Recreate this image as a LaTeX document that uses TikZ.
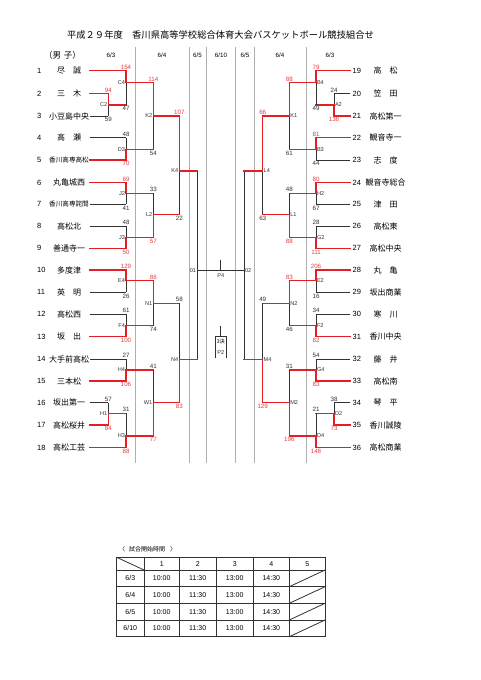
\documentclass[tikz,border=0pt]{standalone}
\usepackage{fontspec}
\setmainfont{Liberation Sans}
\newfontfamily\jp{Noto Sans CJK JP}
\definecolor{rl}{RGB}{228,30,36}
\definecolor{rt}{RGB}{232,60,60}
\definecolor{dk}{RGB}{50,50,50}
\definecolor{gl}{RGB}{175,175,175}
\newcommand\fs[1]{\fontsize{#1}{#1}\selectfont}
% match: winner top / winner bottom : xv, ytop, ybot, yout, xout
\newcommand\mt[5]{\draw[lose] (#1,#4) -- (#1,#3); \draw[win] (#1,#2) -- (#1,#4) -- (#5,#4);}
\newcommand\mb[5]{\draw[lose] (#1,#2) -- (#1,#4); \draw[win] (#1,#3) -- (#1,#4) -- (#5,#4);}
\newcommand\sA[4]{\node[#4,anchor=south] at (#1,#2-0.9) {#3};}
\newcommand\sB[4]{\node[#4,anchor=north] at (#1,#2+0.9) {#3};}
\newcommand\mL[3]{\node[ml,anchor=east] at (#1-0.4,#2) {#3};}
\newcommand\mR[3]{\node[ml,anchor=west] at (#1+0.4,#2) {#3};}
\begin{document}
\begin{tikzpicture}[x=1pt,y=-1pt,
  win/.style={draw=rl,line width=1.5pt,line cap=rect},
  lose/.style={draw=dk,line width=0.8pt},
  sc/.style={font=\fs{6.2},inner sep=0.5pt},
  scr/.style={sc,text=rt},
  sck/.style={sc,text=dk},
  ml/.style={font=\fs{5.6},inner sep=0.4pt,text=dk},
  nm/.style={font=\jp\fs{8},inner sep=0},
  nms/.style={font=\jp\fs{6.6},inner sep=0},
  num/.style={font=\fs{7.5},anchor=west,inner sep=0},
  col/.style={draw=gl,line width=0.7pt},
  tb/.style={draw=dk,line width=1pt},
  tt/.style={font=\fs{7},inner sep=0}]
\path[use as bounding box,fill=white] (0,0) rectangle (481,680);

% title
\node[font=\jp\fs{9.3},inner sep=0] (title) at (220.5,35) {平成２９年度　香川県高等学校総合体育大会バスケットボール競技組合せ};
\node[font=\jp\fs{8.5},inner sep=0] (sex) at (62.5,55) {（男\hspace{3pt}子）};
% date headers
\foreach \x/\d [count=\i] in {111/6\slash 3,162/6\slash 4,197.5/6\slash 5,221/6\slash 10,245/6\slash 5,280/6\slash 4,330/6\slash 3}
  \node[font=\fs{6.2},inner sep=0] (d\i) at (\x,55) {\d};
% column lines
\foreach \x in {135,189,206,235.7,254,306.7}
  \draw[col] (\x,47) -- (\x,463);

% final
\draw[lose] (197,171) -- (197,359.3);
\draw[lose] (244,171) -- (244,359.3);
\draw[lose] (197,270.7) -- (244,270.7);
\draw[lose] (220.7,260) -- (220.7,270.7);
\node[ml] (p4) at (220.7,276) {P4};
\draw[lose] (220.7,326) -- (220.7,336.7);
\draw[lose] (215.7,358.3) -- (215.7,336.7) -- (226,336.7) -- (226,358.3);
\node[font=\jp\fs{5.2},inner sep=0] (p2a) at (220.8,341.5) {3決};
\node[ml] (p2b) at (220.8,352.5) {P2};
\mL{197}{270.7}{01}
\mR{244}{270.7}{02}

% ---------- left side ----------
\draw[lose] (90,116) -- (108.3,116);
\draw[lose] (90,137.7) -- (126,137.7);
\draw[lose] (90,204.3) -- (126,204.3);
\draw[lose] (90,226) -- (126,226);
\draw[lose] (90,292.3) -- (126,292.3);
\draw[lose] (90,314.3) -- (126,314.3);
\draw[lose] (90,359.3) -- (126,359.3);
\draw[lose] (90,402.7) -- (108.3,402.7);
\mt{108.3}{93.7}{116}{105}{126}
\mt{126}{70.7}{105}{82.7}{153.3}
\mb{126}{137.7}{160}{149.3}{153.3}
\mt{153.3}{82.7}{149.3}{116}{179.3}
\mt{126}{182.7}{204.3}{193.3}{153.3}
\mb{126}{226}{248.3}{237.3}{153.3}
\mb{153.3}{193.3}{237.3}{214.3}{179.3}
\mt{179.3}{116}{214.3}{171}{197}
\mt{126}{270}{292.3}{280.7}{153.3}
\mb{126}{314.3}{336.7}{325.7}{153.3}
\mt{153.3}{280.7}{325.7}{303.3}{179.3}
\mb{126}{359.3}{381}{370}{153.3}
\mb{108.3}{402.7}{425}{413.3}{126}
\mb{126}{413.3}{447.7}{436}{153.3}
\mb{153.3}{370}{436}{402.3}{179.3}
\mb{179.3}{303.3}{402.3}{359.3}{197}
\draw[win] (90,70.7) -- (126,70.7);
\draw[win] (90,93.7) -- (108.3,93.7);
\draw[win] (90,160) -- (126,160);
\draw[win] (90,182.7) -- (126,182.7);
\draw[win] (90,248.3) -- (126,248.3);
\draw[win] (90,270) -- (126,270);
\draw[win] (90,336.7) -- (126,336.7);
\draw[win] (90,381) -- (126,381);
\draw[win] (90,425) -- (108.3,425);
\draw[win] (90,447.7) -- (126,447.7);

% ---------- right side ----------
\draw[lose] (350,93.7) -- (334,93.7);
\draw[lose] (350,160) -- (316,160);
\draw[lose] (350,204.3) -- (316,204.3);
\draw[lose] (350,226) -- (316,226);
\draw[lose] (350,292.3) -- (316,292.3);
\draw[lose] (350,314.3) -- (316,314.3);
\draw[lose] (350,359.3) -- (316,359.3);
\draw[lose] (350,402.7) -- (334,402.7);
\mb{334}{93.7}{116}{105}{316}
\mt{316}{70.7}{105}{82.7}{289.3}
\mt{316}{137.7}{160}{149.3}{289.3}
\mt{289.3}{82.7}{149.3}{116}{262.7}
\mt{316}{182.7}{204.3}{193.3}{289.3}
\mb{316}{226}{248.3}{237.3}{289.3}
\mb{289.3}{193.3}{237.3}{214.3}{262.7}
\mt{262.7}{116}{214.3}{171}{244}
\mt{316}{270}{292.3}{280.7}{289.3}
\mb{316}{314.3}{336.7}{325.7}{289.3}
\mt{289.3}{280.7}{325.7}{303.3}{262.7}
\mb{316}{359.3}{381}{370}{289.3}
\mb{334}{402.7}{425}{413.3}{316}
\mb{316}{413.3}{447.7}{436}{289.3}
\mb{289.3}{370}{436}{402.3}{262.7}
\mb{262.7}{303.3}{402.3}{359.3}{244}
\draw[win] (350,70.7) -- (316,70.7);
\draw[win] (350,116) -- (334,116);
\draw[win] (350,137.7) -- (316,137.7);
\draw[win] (350,182.7) -- (316,182.7);
\draw[win] (350,248.3) -- (316,248.3);
\draw[win] (350,270) -- (316,270);
\draw[win] (350,336.7) -- (316,336.7);
\draw[win] (350,381) -- (316,381);
\draw[win] (350,425) -- (334,425);
\draw[win] (350,447.7) -- (316,447.7);

% ---------- scores left ----------
\sA{126}{70.7}{154}{scr}
\sA{108.3}{93.7}{94}{scr}
\sB{108.3}{116}{59}{sck}
\sB{126}{105}{47}{sck}
\sA{153.3}{82.7}{114}{scr}
\sB{153.3}{149.3}{54}{sck}
\sA{126}{137.7}{48}{sck}
\sB{126}{160}{70}{scr}
\sA{179.3}{116}{107}{scr}
\sA{126}{182.7}{69}{scr}
\sB{126}{204.3}{41}{sck}
\sA{153.3}{193.3}{33}{sck}
\sA{126}{226}{48}{sck}
\sB{126}{248.3}{50}{scr}
\sB{153.3}{237.3}{57}{scr}
\sB{179.3}{214.3}{22}{sck}
\sA{126}{270}{129}{scr}
\sB{126}{292.3}{26}{sck}
\sA{153.3}{280.7}{86}{scr}
\sA{126}{314.3}{61}{sck}
\sB{126}{336.7}{100}{scr}
\sB{153.3}{325.7}{74}{sck}
\sA{179.3}{303.3}{58}{sck}
\sA{126}{359.3}{27}{sck}
\sB{126}{381}{106}{scr}
\sA{153.3}{370}{41}{sck}
\sA{108.3}{402.7}{57}{sck}
\sB{108.3}{425}{84}{scr}
\sA{126}{413.3}{31}{sck}
\sB{126}{447.7}{88}{scr}
\sB{153.3}{436}{77}{scr}
\sB{179.3}{402.3}{83}{scr}
% ---------- scores right ----------
\sA{316}{70.7}{79}{scr}
\sA{334}{93.7}{24}{sck}
\sB{334}{116}{136}{scr}
\sB{316}{105}{49}{sck}
\sA{289.3}{82.7}{88}{scr}
\sA{316}{137.7}{81}{scr}
\sB{316}{160}{44}{sck}
\sB{289.3}{149.3}{61}{sck}
\sA{262.7}{116}{66}{scr}
\sA{316}{182.7}{80}{scr}
\sB{316}{204.3}{67}{sck}
\sA{289.3}{193.3}{48}{sck}
\sA{316}{226}{28}{sck}
\sB{316}{248.3}{111}{scr}
\sB{289.3}{237.3}{88}{scr}
\sB{262.7}{214.3}{63}{sck}
\sA{316}{270}{206}{scr}
\sB{316}{292.3}{16}{sck}
\sA{289.3}{280.7}{83}{scr}
\sA{316}{314.3}{34}{sck}
\sB{316}{336.7}{82}{scr}
\sB{289.3}{325.7}{46}{sck}
\sA{262.7}{303.3}{49}{sck}
\sA{316}{359.3}{54}{sck}
\sB{316}{381}{83}{scr}
\sA{289.3}{370}{31}{sck}
\sA{334}{402.7}{38}{sck}
\sB{334}{425}{73}{scr}
\sA{316}{413.3}{21}{sck}
\sB{316}{447.7}{148}{scr}
\sB{289.3}{436}{196}{scr}
\sB{262.7}{402.3}{129}{scr}

% ---------- match labels ----------
\mL{108.3}{105}{C2}\mL{126}{82.7}{C4}\mL{126}{149.3}{D3}\mL{153.3}{116}{K2}
\mL{126}{193.3}{J2}\mL{126}{237.3}{J3}\mL{153.3}{214.3}{L2}\mL{179.3}{171}{K4}
\mL{126}{280.7}{E4}\mL{126}{325.7}{F4}\mL{153.3}{303.3}{N1}\mL{126}{370}{H4}
\mL{108.3}{413.3}{H1}\mL{126}{436}{H3}\mL{153.3}{402.3}{W1}\mL{179.3}{359.3}{N4}
\mR{334}{105}{A2}\mR{316}{82.7}{B4}\mR{316}{149.3}{B3}\mR{289.3}{116}{K1}
\mR{316}{193.3}{H2}\mR{316}{237.3}{G2}\mR{289.3}{214.3}{L1}\mR{262.7}{171}{L4}
\mR{316}{280.7}{E2}\mR{316}{325.7}{F2}\mR{289.3}{303.3}{N2}\mR{316}{370}{G4}
\mR{334}{413.3}{D2}\mR{316}{436}{D4}\mR{289.3}{402.3}{M2}\mR{262.7}{359.3}{M4}

% ---------- team numbers and names ----------
\foreach \y/\n/\t/\s [count=\i] in {
  70.7/1/尽\hspace{8pt}誠/nm, 93.7/2/三\hspace{8pt}木/nm, 116/3/小豆島中央/nm,
  137.7/4/高\hspace{8pt}瀬/nm, 160/5/香川高専高松/nms, 182.7/6/丸亀城西/nm,
  204.3/7/香川高専詫間/nms, 226/8/高松北/nm, 248.3/9/善通寺一/nm,
  270/10/多度津/nm, 292.3/11/英\hspace{8pt}明/nm, 314.3/12/高松西/nm,
  336.7/13/坂\hspace{8pt}出/nm, 359.3/14/大手前高松/nm, 381/15/三本松/nm,
  402.7/16/坂出第一/nm, 425/17/高松桜井/nm, 447.7/18/高松工芸/nm}
{ \node[num] (ln\i) at (37,\y) {\n};
  \node[\s] (lt\i) at (69,\y) {\t}; }
\foreach \y/\n/\t/\s [count=\i] in {
  70.7/19/高\hspace{8pt}松/nm, 93.7/20/笠\hspace{8pt}田/nm, 116/21/高松第一/nm,
  137.7/22/観音寺一/nm, 160/23/志\hspace{8pt}度/nm, 182.7/24/観音寺総合/nm,
  204.3/25/津\hspace{8pt}田/nm, 226/26/高松東/nm, 248.3/27/高松中央/nm,
  270/28/丸\hspace{8pt}亀/nm, 292.3/29/坂出商業/nm, 314.3/30/寒\hspace{8pt}川/nm,
  336.7/31/香川中央/nm, 359.3/32/藤\hspace{8pt}井/nm, 381/33/高松南/nm,
  402.7/34/琴\hspace{8pt}平/nm, 425/35/香川誠陵/nm, 447.7/36/高松商業/nm}
{ \node[num] (rn\i) at (352.5,\y) {\n};
  \node[\s] (rt\i) at (385.5,\y) {\t}; }

% ---------- table ----------
\node[font=\jp\fs{6},inner sep=0,anchor=west] (tcap) at (119,549.3) {〈\hspace{4pt}試合開始時間\hspace{5pt}〉};
\draw[tb] (116.7,557.3) rectangle (325,636.7);
\foreach \x in {144,179.3,216,253.3,289.3} \draw[tb] (\x,557.3) -- (\x,636.7);
\foreach \y in {570,586.7,603.3,620} \draw[tb] (116.7,\y) -- (325,\y);
\draw[lose] (116.7,557.3) -- (144,570);
\foreach \a/\b in {570/586.7,586.7/603.3,603.3/620,620/636.7}
  \draw[lose] (289.3,\b) -- (325,\a);
\foreach \x/\t [count=\i] in {161.7/1,197.7/2,234.7/3,271.3/4,307.2/5}
  \node[tt] (h\i) at (\x,563.8) {\t};
\foreach \y/\d [count=\i] in {578.3/6\slash 3,595/6\slash 4,611.7/6\slash 5,628.3/6\slash 10}{
  \node[tt] (rd\i) at (130.3,\y) {\d};
  \node[tt] (ta\i) at (161.7,\y) {10:00};
  \node[tt] (tb\i) at (197.7,\y) {11:30};
  \node[tt] (tc\i) at (234.7,\y) {13:00};
  \node[tt] (td\i) at (271.3,\y) {14:30};}
\end{tikzpicture}
\end{document}
